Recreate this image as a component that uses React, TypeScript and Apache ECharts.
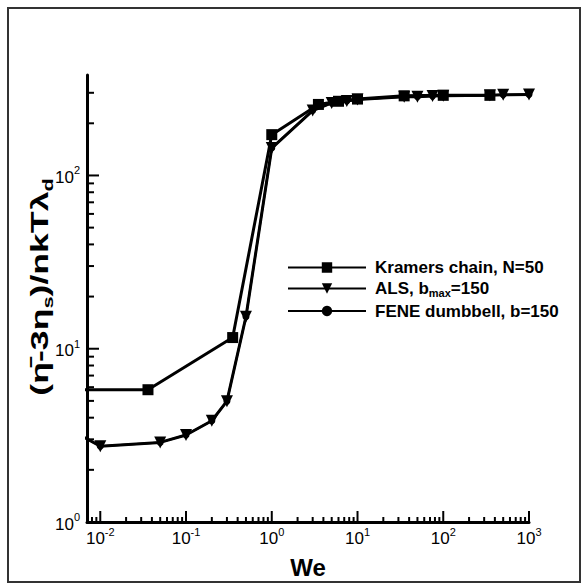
import React, { useEffect, useRef } from 'react';
import * as echarts from 'echarts';

// ---- data ----
const kramersWe = [0.005, 0.036, 0.35, 1.0, 3.5, 6, 10, 35, 100, 350];
const kramersVal = [5.8, 5.8, 11.6, 172, 257, 268, 276, 288, 290, 290];

const alsWe = [0.005, 0.01, 0.05, 0.1, 0.2, 0.3, 0.5, 1.0, 3, 5, 7.5, 10, 35, 50, 75, 100, 350, 500, 1000];
const alsVal = [3.3, 2.74, 2.88, 3.18, 3.84, 4.98, 15.3, 144, 237, 262, 269, 274, 285, 285, 287, 288, 290, 292, 293];

const feneWe = [0.005, 0.01, 0.05, 0.1, 0.2, 0.3, 0.5, 1.0, 3, 5, 7.5, 10, 35, 50, 75, 100, 350, 500, 1000];
const feneVal = [3.3, 2.74, 2.88, 3.18, 3.84, 4.98, 15.3, 144, 237, 262, 269, 274, 285, 285, 287, 288, 290, 292, 293];

const seriesNames = ['Kramers chain, N=50', 'ALS, bmax=150', 'FENE dumbbell, b=150'];

const X_MIN = 0.007;
const X_MAX = 1000;
const Y_MIN = 1;
const Y_MAX = 380;

const xMajorTicks = [0.01, 0.1, 1, 10, 100, 1000];
const yMajorTicks = [1, 10, 100];
const mantissas = [2, 3, 4, 5, 6, 7, 8, 9];
const xDecades = [0.001, 0.01, 0.1, 1, 10, 100];
const yDecades = [1, 10, 100];

const FONT = '"Liberation Sans", Arial, Helvetica, sans-serif';

function pairs(xs: number[], ys: number[]) {
  return xs.map((x, i) => [x, ys[i]]);
}

export default function App() {
  const ref = useRef<HTMLDivElement>(null);

  useEffect(() => {
    document.body.style.margin = '0';
    const chart = echarts.init(ref.current!, null, { renderer: 'svg' });

    const tickData: number[][] = [];
    xMajorTicks.forEach((v) => tickData.push([v, Y_MIN, 0]));
    xDecades.forEach((d) =>
      mantissas.forEach((m) => {
        const v = m * d;
        if (v >= X_MIN && v <= X_MAX) tickData.push([v, Y_MIN, 1]);
      })
    );
    yMajorTicks.forEach((v) => tickData.push([X_MIN, v, 2]));
    yDecades.forEach((d) =>
      mantissas.forEach((m) => {
        const v = m * d;
        if (v >= Y_MIN && v <= Y_MAX) tickData.push([X_MIN, v, 3]);
      })
    );

    const powLabel = (v: number) => {
      const e = Math.round(Math.log10(v));
      const p = Math.pow(10, e);
      if (Math.abs(v - p) / p > 1e-6) return '';
      return '{b|10}{sup|' + e + '}';
    };
    const labelRich = {
      b: { fontSize: 17, fontFamily: FONT, color: '#000', lineHeight: 21, verticalAlign: 'bottom' },
      sup: { fontSize: 11, fontFamily: FONT, color: '#000', lineHeight: 21, verticalAlign: 'top' },
    };

    const option: any = {
      animation: false,
      backgroundColor: '#fff',
      grid: { left: 87, top: 75, width: 442, height: 447, containLabel: false },
      xAxis: {
        type: 'log',
        logBase: 10,
        min: X_MIN,
        max: X_MAX,
        name: 'We',
        nameLocation: 'middle',
        nameGap: 33,
        nameTextStyle: { fontSize: 24, fontWeight: 'bold', fontFamily: FONT, color: '#000' },
        axisLine: { show: true, lineStyle: { color: '#000', width: 3 } },
        axisTick: { show: false },
        minorTick: { show: false },
        splitLine: { show: false },
        axisLabel: { formatter: powLabel, margin: 4, rich: labelRich, showMinLabel: false },
      },
      yAxis: {
        type: 'log',
        logBase: 10,
        min: Y_MIN,
        max: Y_MAX,
        axisLine: { show: true, lineStyle: { color: '#000', width: 3 } },
        axisTick: { show: false },
        minorTick: { show: false },
        splitLine: { show: false },
        axisLabel: { formatter: powLabel, margin: 7, rich: labelRich, showMaxLabel: false },
      },
      legend: {
        data: seriesNames,
        orient: 'vertical',
        left: 282,
        top: 254,
        itemWidth: 78,
        itemHeight: 13,
        itemGap: 4,
        formatter: (name: string) => {
          if (name === 'ALS, bmax=150') return '{t|ALS, b}{sub|max}{t|=150}';
          return '{t|' + name + '}';
        },
        textStyle: {
          padding: [0, 0, 0, 4],
          rich: {
            t: { fontSize: 17, fontWeight: 'bold', fontFamily: FONT, color: '#000', lineHeight: 20, verticalAlign: 'middle' },
            sub: { fontSize: 11, fontWeight: 'bold', fontFamily: FONT, color: '#000', lineHeight: 20, verticalAlign: 'bottom' },
          },
        },
        inactiveColor: '#000',
      },
      graphic: [
        {
          type: 'rect',
          shape: { x: 8, y: 8, width: 572, height: 574 },
          style: { fill: 'none', stroke: '#333', lineWidth: 2 },
          silent: true,
        },
        {
          type: 'text',
          x: 40,
          y: 287,
          rotation: Math.PI / 2,
          scaleX: 1.55,
          style: {
            text: '{a|(\u03B7\u0304-3\u03B7}{s|s}{a|)/nkT\u03BB}{s|d}',
            align: 'center',
            verticalAlign: 'middle',
            rich: {
              a: { fontSize: 23, fontWeight: 'bold', fontFamily: FONT, fill: '#000', lineHeight: 30, verticalAlign: 'middle' },
              s: { fontSize: 14, fontWeight: 'bold', fontFamily: FONT, fill: '#000', lineHeight: 26, verticalAlign: 'bottom' },
            },
          },
          silent: true,
        },
      ],
      series: [
        {
          name: seriesNames[0],
          type: 'line',
          data: pairs(kramersWe, kramersVal),
          symbol: 'rect',
          symbolSize: 11,
          clip: true,
          lineStyle: { color: '#000', width: 3 },
          itemStyle: { color: '#000' },
          z: 3,
        },
        {
          name: seriesNames[1],
          type: 'line',
          data: pairs(alsWe, alsVal),
          symbol: 'triangle',
          symbolRotate: 180,
          symbolSize: 12,
          clip: true,
          lineStyle: { color: '#000', width: 3 },
          itemStyle: { color: '#000' },
          z: 3,
        },
        {
          name: seriesNames[2],
          type: 'line',
          data: pairs(feneWe, feneVal),
          symbol: 'circle',
          symbolSize: 7,
          clip: true,
          lineStyle: { color: '#000', width: 2 },
          itemStyle: { color: '#000' },
          z: 4,
        },
        {
          name: 'ticks',
          type: 'custom',
          coordinateSystem: 'cartesian2d',
          clip: false,
          silent: true,
          z: 5,
          data: tickData,
          renderItem: (params: any, api: any) => {
            const p = api.coord([api.value(0), api.value(1)]);
            const k = api.value(2);
            let shape;
            if (k === 0) shape = { x1: p[0], y1: p[1], x2: p[0], y2: p[1] - 11 };
            else if (k === 1) shape = { x1: p[0], y1: p[1], x2: p[0], y2: p[1] - 5 };
            else if (k === 2) shape = { x1: p[0], y1: p[1], x2: p[0] + 12, y2: p[1] };
            else shape = { x1: p[0], y1: p[1], x2: p[0] + 7, y2: p[1] };
            return { type: 'line', shape, style: { stroke: '#000', lineWidth: 2 } };
          },
        },
      ],
    };

    chart.setOption(option);
    return () => chart.dispose();
  }, []);

  return <div ref={ref} style={{ width: 588, height: 585, background: '#fff' }} />;
}
